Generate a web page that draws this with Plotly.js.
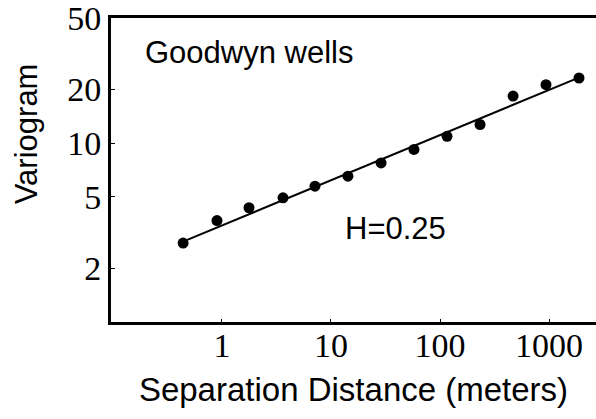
<!DOCTYPE html>
<html>
<head>
<meta charset="utf-8">
<script src="https://cdn.plot.ly/plotly-3.0.1.min.js"></script>
<style>html,body{margin:0;padding:0;background:#fff;}#chart{width:596px;height:419px;}</style>
</head>
<body>
<div id="chart"></div>
<script>
// Data
const distance = [0.44, 0.90, 1.77, 3.63, 7.13, 14.3, 28.8, 57.7, 116, 233, 468, 938, 1884];
const variogram = [2.76, 3.69, 4.35, 4.94, 5.74, 6.53, 7.75, 9.21, 10.9, 12.7, 18.3, 21.2, 23.1];
const fitDistance = [0.48, 2000];
const fitVariogram = [2.88, 23.6];
const xTicks = [1, 10, 100, 1000];
const xTickText = ["1", "10", "100", "1000"];
const yTicks = [2, 5, 10, 20, 50];
const yTickText = ["2", "5", "10", "20", "50"];
const label = "Goodwyn wells";
const fitLabel = "H=0.25";
const xTitle = "Separation Distance (meters)";
const yTitle = "Variogram";

const traces = [
  {x: fitDistance, y: fitVariogram, mode: "lines", type: "scatter",
   line: {color: "#000", width: 2}, hoverinfo: "skip", showlegend: false},
  {x: distance, y: variogram, mode: "markers", type: "scatter",
   marker: {color: "#000", size: 11}, showlegend: false}
];

const serif = "Liberation Serif, Times New Roman, serif";
const sans = "Liberation Sans, Arial, sans-serif";

const layout = {
  width: 596, height: 419,
  margin: {l: 111, r: 0, t: 18, b: 97},
  paper_bgcolor: "#fff", plot_bgcolor: "#fff",
  showlegend: false,
  xaxis: {
    type: "log", range: [-1.018, 3.431],
    tickvals: xTicks, ticktext: xTickText,
    tickfont: {family: serif, size: 34, color: "#000"},
    ticklabelstandoff: -9, ticklabeloverflow: "allow",
    showgrid: false, zeroline: false,
    showline: true, linecolor: "#000", linewidth: 3, mirror: true,
    ticks: "inside", ticklen: 3, tickcolor: "#000",
    title: {text: xTitle, font: {family: sans, size: 33, color: "#000"}, standoff: 16}
  },
  yaxis: {
    type: "log", range: [0, 1.699],
    tickvals: yTicks, ticktext: yTickText,
    tickfont: {family: serif, size: 34, color: "#000"},
    ticklabeloverflow: "allow",
    showgrid: false, zeroline: false,
    showline: true, linecolor: "#000", linewidth: 3, mirror: false,
    ticks: "inside", ticklen: 4, tickcolor: "#000"
  },
  annotations: [
    {text: yTitle, xref: "paper", yref: "paper", x: -0.175, y: 0.618,
     xanchor: "center", yanchor: "middle", textangle: -90,
     showarrow: false, font: {family: sans, size: 31, color: "#000"}},
    {text: label, xref: "paper", yref: "paper", x: 0.2845, y: 0.888,
     xanchor: "center", yanchor: "middle",
     showarrow: false, font: {family: sans, size: 31, color: "#000"}},
    {text: fitLabel, xref: "paper", yref: "paper", x: 0.5856, y: 0.309,
     xanchor: "center", yanchor: "middle",
     showarrow: false, font: {family: sans, size: 31, color: "#000"}}
  ]
};

Plotly.newPlot("chart", traces, layout, {staticPlot: true, displayModeBar: false});
</script>
</body>
</html>
